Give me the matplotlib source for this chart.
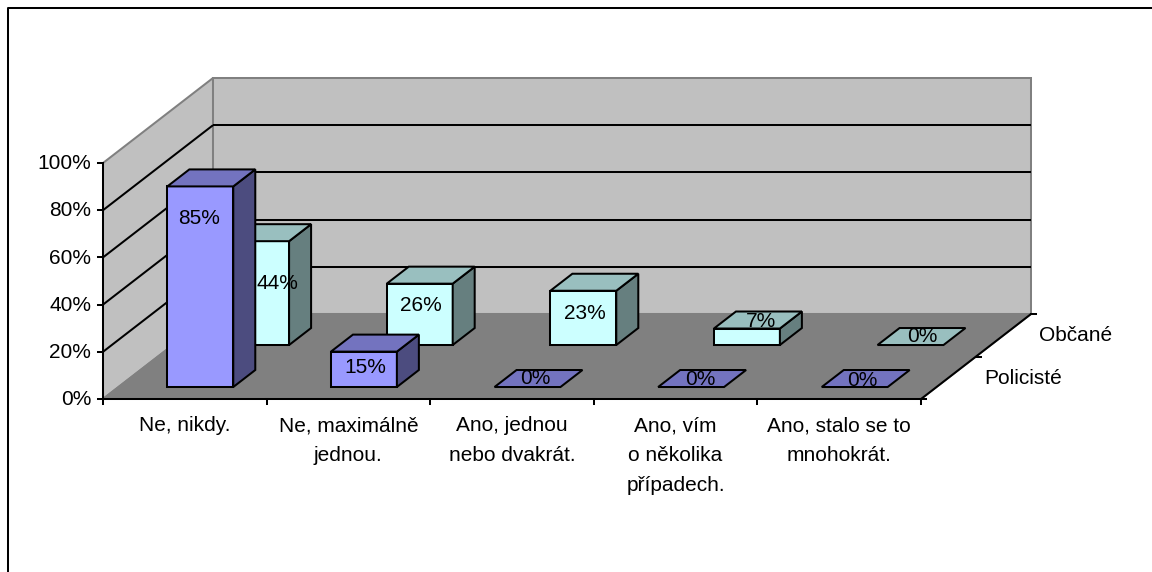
"""Excel style 3D clustered column chart, drawn with an oblique projection."""

import matplotlib
matplotlib.use('Agg')
import matplotlib.pyplot as plt

plt.rcParams['font.family'] = ['Liberation Sans', 'DejaVu Sans']

# Data
categories = ['Ne, nikdy.', 'Ne, maximálně\njednou.', 'Ano, jednou\nnebo dvakrát.',
              'Ano, vím\no několika\npřípadech.', 'Ano, stalo se to\nmnohokrát.']
series_names = ['Policisté', 'Občané']
policiste = [85, 15, 0, 0, 0]
obcane = [44, 26, 23, 7, 0]
value_ticks = [0, 20, 40, 60, 80, 100]

# Layout of the projection, in pixels of the picture
X0, Y0 = 103, 399          # front left corner of the floor
CAT_W = 163.6              # width of one category
VAL_H = 2.36               # pixels per percent
DEPTH_X, DEPTH_Y = 110, 85 # shift of the back wall
BAR_W = 0.403              # in categories
BAR_D = 0.2                # in floor depth
SERIES_D = [0.141, 0.635]  # front of the bars of each series
SERIES_X = [0.0, 0.009]    # small sideways shift of each series

# Colours: front, top, side
COLORS = [('#9999FF', '#7373BF', '#4C4C7F'), ('#CCFFFF', '#99BFBF', '#667F7F')]
LW = 1.45

# Label offsets in pixels from the middle of the bar base
LABEL_DX = [[-1, 1, 8, 9, 8], [23, 3, 3, 16, 13]]
LABEL_DY = [[-169, -20, -9, -8, -7], [-62, -40, -32, -24, -9]]


def project(cat, val, depth):
    """Category position, percent and depth fraction to pixels."""
    return (X0 + cat * CAT_W + depth * DEPTH_X,
            Y0 - val * VAL_H - depth * DEPTH_Y)


def poly(ax, points, face, edge='black', lw=LW, zorder=2):
    xy = [project(*p) for p in points]
    ax.fill([p[0] for p in xy], [p[1] for p in xy], facecolor=face,
            edgecolor=edge, linewidth=lw, joinstyle='miter', zorder=zorder)


def line(ax, a, b, color='black', lw=LW, zorder=1):
    xa, ya = project(*a)
    xb, yb = project(*b)
    ax.plot([xa, xb], [ya, yb], color=color, linewidth=lw,
            solid_capstyle='butt', zorder=zorder)


fig = plt.figure(figsize=(11.52, 5.72), dpi=100)
ax = fig.add_axes([0, 0, 1, 1])
ax.set_xlim(0, 1152)
ax.set_ylim(572, 0)
ax.axis('off')

# Outer frame, only top and left are in the picture
ax.plot([7.5, 7.5, 1152], [572, 7.8, 7.8], color='black', linewidth=1.45)

ncat = len(categories)

# Walls and floor
poly(ax, [(0, 0, 0), (0, 100, 0), (0, 100, 1), (0, 0, 1)], '#C0C0C0', '#808080', zorder=1)
poly(ax, [(0, 0, 1), (0, 100, 1), (ncat, 100, 1), (ncat, 0, 1)], '#C0C0C0', '#808080', zorder=1)
poly(ax, [(0, 0, 0), (0, 0, 1), (ncat, 0, 1), (ncat, 0, 0)], '#808080', '#808080', zorder=1.1)

# Gridlines
for v in value_ticks[1:-1]:
    line(ax, (0, v, 0), (0, v, 1), zorder=1.5)
    line(ax, (0, v, 1), (ncat, v, 1), zorder=1.5)

# Axes lines and ticks
line(ax, (0, 0, 0), (0, 100, 0), zorder=1.6)
line(ax, (0, 0, 0), (ncat, 0, 0), zorder=1.6)
line(ax, (ncat, 0, 0), (ncat, 0, 1), zorder=1.6)
for v in value_ticks:
    x, y = project(0, v, 0)
    ax.plot([x - 5, x], [y, y], color='black', linewidth=LW, zorder=1.6)
    ax.text(x - 12, y + 0.8, '%d%%' % v, ha='right', va='center', fontsize=15)
for i in range(ncat + 1):
    x, y = project(i, 0, 0)
    ax.plot([x, x], [y, y + 5], color='black', linewidth=LW, zorder=1.6)
for d in [0, 0.5, 1]:
    x, y = project(ncat, 0, d)
    ax.plot([x, x + 5], [y, y], color='black', linewidth=LW, zorder=1.6)

# Category and series labels
for i, name in enumerate(categories):
    x, y = project(i + 0.5, 0, 0)
    ax.text(x, y + 17, name, ha='center', va='top', fontsize=15, linespacing=1.72)
for name, d in zip(series_names, [0.25, 0.75]):
    x, y = project(ncat, 0, d)
    ax.text(x + 36, y + 0.5, name, ha='left', va='center', fontsize=15)

# Bars, back series first
series = [policiste, obcane]
for s in [1, 0]:
    front, top, side = COLORS[s]
    d0 = SERIES_D[s]
    d1 = d0 + BAR_D
    for i, v in enumerate(series[s]):
        a = i + 0.5 - BAR_W / 2 + SERIES_X[s]
        b = i + 0.5 + BAR_W / 2 + SERIES_X[s]
        if v > 0:
            poly(ax, [(a, 0, d0), (a, v, d0), (b, v, d0), (b, 0, d0)], front, zorder=3 + (1 - s))
            poly(ax, [(b, 0, d0), (b, v, d0), (b, v, d1), (b, 0, d1)], side, zorder=3 + (1 - s))
        poly(ax, [(a, v, d0), (a, v, d1), (b, v, d1), (b, v, d0)], top, zorder=3 + (1 - s))

# Data labels on top of everything
for s in [1, 0]:
    for i, v in enumerate(series[s]):
        x, y = project(i + 0.5, 0, SERIES_D[s])
        ax.text(x + LABEL_DX[s][i], y + LABEL_DY[s][i], '%d%%' % v, ha='center',
                va='center', fontsize=15, zorder=6)

fig.savefig('out.png', dpi=100)
